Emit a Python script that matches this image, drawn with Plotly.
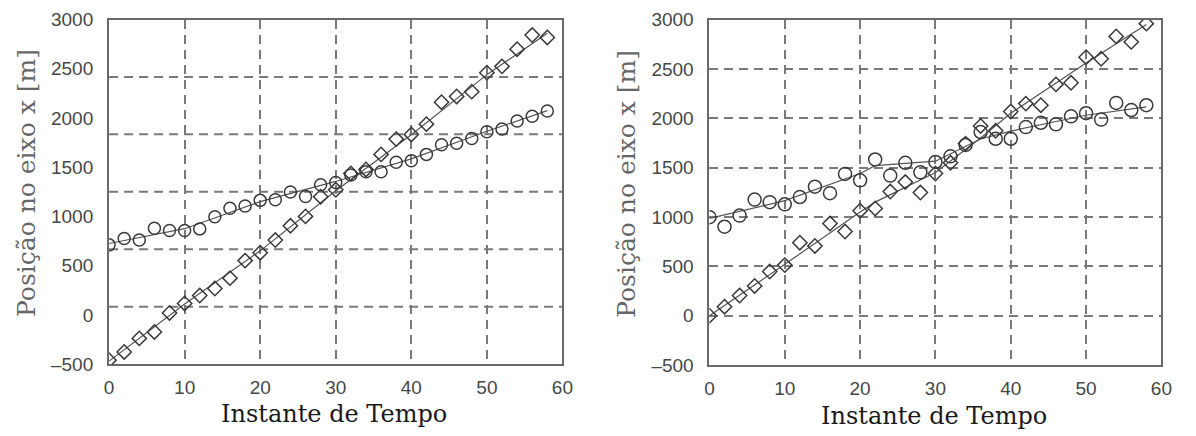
import plotly.graph_objects as go

W, H = 1196, 436

# Sample instants (same for every series)
t = [0, 2, 4, 6, 8, 10, 12, 14, 16, 18, 20, 22, 24, 26, 28,
     30, 32, 34, 36, 38, 40, 42, 44, 46, 48, 50, 52, 54, 56, 58]

# Left panel: measured positions
left_circ = [711, 776, 760, 880, 856, 856, 873, 996, 1083, 1105, 1163, 1170, 1248, 1203, 1321,
             1345, 1421, 1453, 1453, 1550, 1566, 1630, 1727, 1743, 1792, 1860, 1888, 1969, 2017, 2070]
left_diam = [-460, -377, -239, -174, 19, 116, 196, 267, 373, 551, 631, 760, 905, 1000, 1200,
             1270, 1437, 1477, 1630, 1785, 1832, 1937, 2160, 2218, 2267, 2460, 2524, 2698, 2842, 2818]

# Left panel: estimated trajectories
left_fit_t = [0, 10, 20, 30, 40, 50, 58]
left_circ_fit = [725, 875, 1150, 1355, 1585, 1865, 2075]
left_diam_fit = [-470, 110, 650, 1260, 1830, 2440, 2860]

# Right panel: measured positions
right_circ = [998, 901, 1014, 1176, 1150, 1128, 1202, 1306, 1241, 1436, 1371, 1582, 1419, 1549, 1452,
              1557, 1614, 1730, 1860, 1792, 1792, 1910, 1954, 1938, 2019, 2051, 1986, 2155, 2083, 2132]
right_diam = [0, 91, 204, 301, 447, 512, 739, 706, 933, 852, 1063, 1086, 1257, 1354, 1247,
              1440, 1549, 1743, 1922, 1873, 2068, 2148, 2132, 2343, 2359, 2618, 2602, 2829, 2773, 2958]

# Right panel: estimated trajectories
right_fit_t = [0, 10, 20, 22, 30, 36, 40, 50, 58]
right_circ_fit = [985, 1165, 1440, 1520, 1565, 1790, 1870, 2030, 2115]
right_diam_fit = [0, 520, 1050, 1150, 1450, 1800, 2050, 2560, 2950]

# Axis ticks
x_ticks = [0, 10, 20, 30, 40, 50, 60]
y_ticks = [-500, 0, 500, 1000, 1500, 2000, 2500, 3000]
y_tick_text = ["\u2013500", "0", "500", "1000", "1500", "2000", "2500", "3000"]

MARK = "#3a3a3a"
GRID = "#7a7a7a"
FRAME = "#6a6a6a"

fig = go.Figure()


def add_panel(xa, ya, circ, diam, fit_t, circ_fit, diam_fit, csize):
    fig.add_trace(go.Scatter(x=fit_t, y=circ_fit, mode="lines", xaxis=xa, yaxis=ya,
                             line=dict(color="#555555", width=1.2), showlegend=False))
    fig.add_trace(go.Scatter(x=fit_t, y=diam_fit, mode="lines", xaxis=xa, yaxis=ya,
                             line=dict(color="#555555", width=1.2), showlegend=False))
    fig.add_trace(go.Scatter(x=t, y=circ, mode="markers", xaxis=xa, yaxis=ya,
                             marker=dict(symbol="circle-open", size=csize, color=MARK,
                                         line=dict(width=1.5, color=MARK)),
                             showlegend=False))
    fig.add_trace(go.Scatter(x=t, y=diam, mode="markers", xaxis=xa, yaxis=ya,
                             marker=dict(symbol="diamond-open", size=11, color=MARK,
                                         line=dict(width=1.5, color=MARK)),
                             showlegend=False))


add_panel("x", "y", left_circ, left_diam, left_fit_t, left_circ_fit, left_diam_fit, 12)
add_panel("x2", "y2", right_circ, right_diam, right_fit_t, right_circ_fit, right_diam_fit, 13)

tick_font = dict(family="Liberation Sans, Arial, sans-serif", size=19, color="#474747")

xcommon = dict(range=[0, 60], tickvals=x_ticks, showgrid=True, gridcolor=GRID, gridwidth=2,
               griddash="9px,6px", zeroline=False, showline=True, mirror=True,
               linecolor=FRAME, linewidth=2, ticks="", tickfont=tick_font,
               ticklabelstandoff=5, ticklabeloverflow="allow")
ycommon = dict(range=[-500, 3000], tickvals=y_ticks, ticktext=y_tick_text,
               zeroline=False, showline=True, mirror=True, linecolor=FRAME, linewidth=2,
               ticks="", tickfont=tick_font, ticklabelstandoff=10, ticklabeloverflow="allow",
               gridcolor=GRID, gridwidth=2, griddash="9px,6px")

fig.update_layout(
    width=W, height=H,
    margin=dict(l=0, r=0, t=0, b=0),
    paper_bgcolor="white", plot_bgcolor="white",
    xaxis=dict(domain=[0.0882, 0.4724], anchor="y", **xcommon),
    yaxis=dict(domain=[0.1468, 0.9771], anchor="x", showgrid=False, **ycommon),
    xaxis2=dict(domain=[0.597, 0.98], anchor="y2", **xcommon),
    yaxis2=dict(domain=[0.1445, 0.9771], anchor="x2", showgrid=True, **ycommon),
)

# Left panel horizontal grid: six equal bands across the vertical range
for k in range(1, 6):
    yv = -500 + k * 3500 / 6
    fig.add_shape(type="line", xref="x domain", yref="y", x0=0, x1=1, y0=yv, y1=yv,
                  line=dict(color=GRID, width=2, dash="9px,6px"), layer="below")

title_font_x = dict(family="DejaVu Serif, serif", size=24, color="#1a1a1a")
title_font_y = dict(family="DejaVu Serif, serif", size=25, color="#666666")


def label(text, px, py, font, angle=0):
    # px, py: centre of the text box in pixels from the top-left corner
    fig.add_annotation(text=text, x=px / W, y=1 - py / H, xref="paper", yref="paper",
                       xanchor="center", yanchor="middle", showarrow=False,
                       textangle=angle, font=font)


label("Instante de Tempo", 333, 424, title_font_x)
label("Instante de Tempo", 942, 427, title_font_x)
label("Posição no eixo x [m]", 22, 182, title_font_y, -90)
label("Posição no eixo x [m]", 630, 183, title_font_y, -90)

fig.write_html("out.html")
